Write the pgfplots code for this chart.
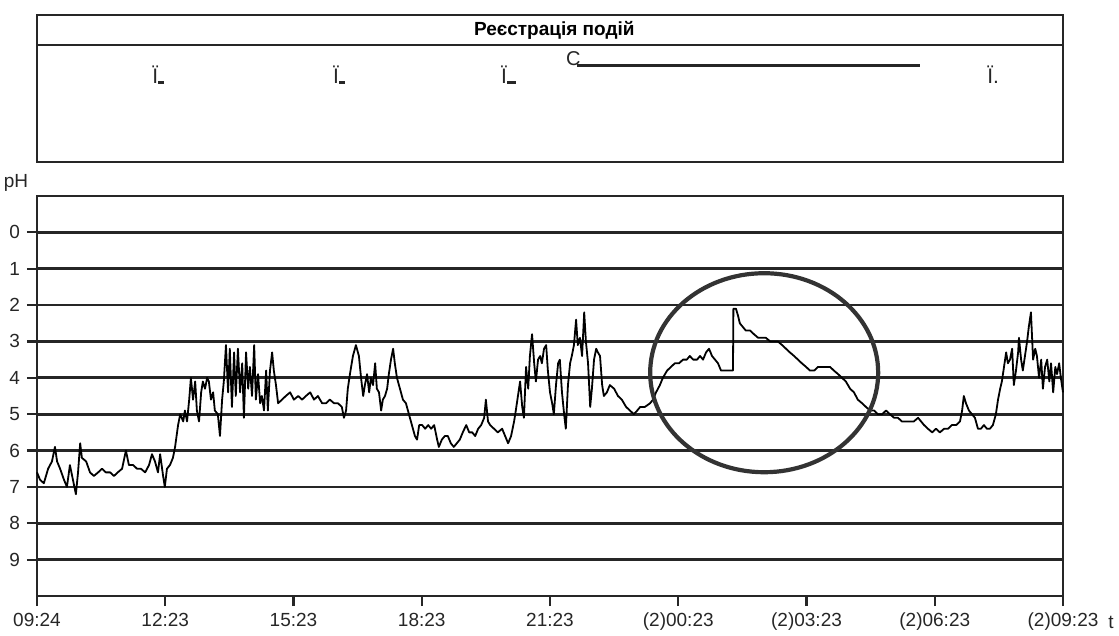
\documentclass[border=0pt]{standalone}
\usepackage{pgfplots}
\pgfplotsset{compat=1.18}
\usepackage{fontspec}
\setmainfont{Liberation Sans}
\pgfplotstableread{
h pH
0 6.6
0.07 6.8
0.16 6.9
0.26 6.5
0.35 6.3
0.42 5.9
0.47 6.3
0.54 6.5
0.63 6.8
0.70 7.0
0.77 6.4
0.84 6.8
0.91 7.2
0.96 6.6
1.01 5.8
1.05 6.2
1.15 6.3
1.24 6.6
1.33 6.7
1.43 6.6
1.52 6.5
1.61 6.6
1.71 6.6
1.80 6.7
1.89 6.6
1.99 6.5
2.08 6.0
2.15 6.4
2.25 6.4
2.34 6.5
2.43 6.5
2.53 6.6
2.62 6.4
2.69 6.1
2.76 6.3
2.83 6.6
2.88 6.1
2.95 6.7
2.99 7.0
3.04 6.5
3.11 6.4
3.18 6.2
3.23 5.9
3.30 5.3
3.35 5.0
3.42 5.2
3.46 4.9
3.51 5.2
3.56 4.6
3.60 4.0
3.65 4.6
3.70 4.1
3.74 4.9
3.79 5.2
3.84 4.4
3.88 4.1
3.93 4.3
3.98 4.0
4.02 4.1
4.07 4.6
4.12 4.4
4.16 4.9
4.23 5.0
4.28 5.6
4.33 4.6
4.37 4.1
4.42 3.1
4.47 4.4
4.51 3.2
4.56 4.8
4.61 3.3
4.65 4.5
4.70 3.2
4.75 4.4
4.80 3.6
4.84 5.1
4.89 3.3
4.94 4.3
4.98 3.7
5.03 4.5
5.08 3.1
5.12 4.6
5.17 3.9
5.22 4.7
5.26 4.5
5.31 4.9
5.36 3.8
5.40 4.9
5.45 3.8
5.50 3.3
5.54 3.8
5.59 4.2
5.64 4.7
5.73 4.6
5.82 4.5
5.92 4.4
6.01 4.6
6.11 4.5
6.20 4.6
6.29 4.5
6.39 4.4
6.48 4.6
6.57 4.5
6.67 4.7
6.76 4.7
6.85 4.6
6.95 4.7
7.04 4.7
7.13 4.8
7.18 5.1
7.23 4.9
7.27 4.3
7.32 3.9
7.39 3.4
7.46 3.1
7.53 3.4
7.58 4.0
7.63 4.5
7.67 4.2
7.72 3.9
7.77 4.4
7.81 4.0
7.86 4.2
7.91 3.6
7.95 4.3
8.00 4.4
8.05 4.9
8.09 4.6
8.14 4.5
8.19 4.3
8.23 3.9
8.28 3.5
8.33 3.2
8.37 3.6
8.42 4.0
8.49 4.3
8.56 4.6
8.63 4.7
8.70 5.0
8.77 5.3
8.84 5.6
8.89 5.7
8.94 5.3
9.01 5.3
9.08 5.4
9.15 5.3
9.22 5.4
9.29 5.3
9.36 5.7
9.40 5.9
9.47 5.7
9.54 5.6
9.61 5.6
9.68 5.8
9.75 5.9
9.82 5.8
9.89 5.7
9.96 5.5
10.04 5.3
10.11 5.5
10.18 5.5
10.25 5.6
10.32 5.4
10.39 5.3
10.46 5.1
10.50 4.6
10.55 5.2
10.60 5.3
10.69 5.4
10.78 5.5
10.88 5.4
10.95 5.6
11.02 5.8
11.09 5.6
11.16 5.2
11.20 4.9
11.25 4.5
11.30 4.1
11.35 4.8
11.39 5.1
11.44 3.7
11.49 4.3
11.53 3.4
11.58 2.8
11.63 3.6
11.67 4.1
11.72 3.5
11.77 3.4
11.81 3.6
11.86 3.2
11.91 3.1
11.95 3.8
12.00 4.4
12.05 4.7
12.09 5.0
12.14 4.2
12.19 3.6
12.23 3.5
12.28 4.4
12.33 5.0
12.37 5.4
12.42 4.2
12.47 3.6
12.51 3.4
12.56 3.1
12.61 2.4
12.65 3.1
12.70 2.9
12.75 3.4
12.80 2.2
12.84 3.0
12.89 3.6
12.94 4.8
12.98 4.3
13.03 3.5
13.08 3.2
13.12 3.3
13.17 3.4
13.22 4.2
13.26 4.5
13.33 4.4
13.40 4.2
13.50 4.3
13.59 4.5
13.68 4.6
13.78 4.8
13.87 4.9
13.96 5.0
14.04 4.9
14.11 4.8
14.22 4.8
14.34 4.7
14.41 4.6
14.48 4.4
14.57 4.2
14.64 4.0
14.74 3.8
14.83 3.7
14.92 3.6
15.02 3.6
15.11 3.5
15.20 3.5
15.27 3.4
15.35 3.5
15.44 3.5
15.51 3.4
15.58 3.5
15.65 3.3
15.72 3.2
15.79 3.4
15.86 3.5
15.93 3.6
16.00 3.8
16.09 3.8
16.19 3.8
16.28 3.8
16.29 2.1
16.35 2.1
16.40 2.3
16.44 2.5
16.51 2.6
16.58 2.7
16.68 2.7
16.77 2.8
16.87 2.9
16.96 2.9
17.05 2.9
17.15 3.0
17.24 3.0
17.33 3.0
17.43 3.1
17.52 3.2
17.61 3.3
17.71 3.4
17.80 3.5
17.89 3.6
17.99 3.7
18.08 3.8
18.18 3.8
18.27 3.7
18.36 3.7
18.46 3.7
18.55 3.7
18.64 3.8
18.74 3.9
18.83 4.0
18.92 4.1
19.02 4.3
19.11 4.4
19.20 4.6
19.30 4.7
19.39 4.8
19.49 4.9
19.58 4.9
19.67 5.0
19.77 5.0
19.86 4.9
19.95 5.0
20.05 5.1
20.14 5.1
20.23 5.2
20.33 5.2
20.42 5.2
20.51 5.2
20.61 5.1
20.68 5.2
20.75 5.3
20.84 5.4
20.94 5.5
21.03 5.4
21.12 5.5
21.22 5.4
21.31 5.4
21.40 5.3
21.50 5.3
21.59 5.2
21.64 4.9
21.68 4.5
21.73 4.7
21.80 4.9
21.87 5.0
21.94 5.1
22.01 5.4
22.08 5.4
22.15 5.3
22.22 5.4
22.29 5.4
22.36 5.3
22.43 5.0
22.48 4.6
22.53 4.3
22.57 4.1
22.62 3.7
22.67 3.3
22.71 3.6
22.76 3.5
22.81 3.2
22.85 4.2
22.90 3.8
22.95 3.3
22.97 2.9
23.02 3.5
23.06 3.8
23.11 3.4
23.16 3.0
23.20 2.6
23.25 2.2
23.30 3.5
23.35 3.2
23.39 3.4
23.44 4.0
23.49 3.5
23.53 4.3
23.58 3.7
23.63 3.5
23.68 4.1
23.72 3.6
23.77 4.4
23.82 3.7
23.86 3.9
23.91 3.6
23.95 4.0
24.00 4.4
}\phdata
\definecolor{frame}{gray}{0.15}
\begin{document}
\begin{tikzpicture}[x=1pt,y=1pt]
\useasboundingbox (0,0) rectangle (559.5,318);
% ---------- event panel ----------
\begin{axis}[at={(18.5pt,237pt)}, anchor=south west, scale only axis,
  width=513pt, height=73.5pt, xmin=0, xmax=24, ymin=0, ymax=147,
  axis line style={line width=1.3pt, frame}, ticks=none, clip=false]
\draw[line width=1.3pt, frame] (axis cs:0,117) -- (axis cs:24,117);
\node[font=\bfseries\fontsize{9.5}{11}\selectfont] at (axis cs:12.1,132) {Реєстрація подій};
\node[anchor=base west, inner sep=0pt, font=\fontsize{10.5}{12}\selectfont, text=frame] at (axis cs:2.69,78) {Ї\rule{3pt}{1.3pt}};
\node[anchor=base west, inner sep=0pt, font=\fontsize{10.5}{12}\selectfont, text=frame] at (axis cs:6.92,78) {Ї\rule{3pt}{1.3pt}};
\node[anchor=base west, inner sep=0pt, font=\fontsize{10.5}{12}\selectfont, text=frame] at (axis cs:10.85,78) {Ї\rule{4.5pt}{1.3pt}};
\node[anchor=base west, inner sep=0pt, font=\fontsize{10.5}{12}\selectfont, text=frame] at (axis cs:22.22,78) {Ї.};
\node[anchor=base west, inner sep=0pt, font=\fontsize{10}{12}\selectfont, text=frame] at (axis cs:12.37,96) {C};
\draw[line width=1.1pt, frame] (axis cs:12.63,96.5) -- (axis cs:20.65,96.5);
\end{axis}
% ---------- pH panel ----------
\begin{axis}[at={(18.5pt,20pt)}, anchor=south west, scale only axis,
  width=513pt, height=200pt, xmin=0, xmax=24, ymin=-1, ymax=10,
  y dir=reverse,
  xtick={0,3,...,24},
  xticklabels={09:24,12:23,15:23,18:23,21:23,(2)00:23,(2)03:23,(2)06:23,(2)09:23},
  ytick={0,...,9},
  ymajorgrids, grid style={line width=1.35pt, frame},
  axis line style={line width=1.35pt, frame},
  tick align=outside, xtick pos=bottom, ytick pos=left,
  major tick length=5pt, tick style={line width=1.1pt, frame},
  tick label style={font=\fontsize{9.5}{11}\selectfont, text=frame},
  /pgf/number format/assume math mode=true,
  clip=false]
\addplot[black, line width=0.9pt, line join=round, mark=none] table[x=h, y=pH] {\phdata};
\draw[line width=2.1pt, black!80] (axis cs:17.01,3.86) ellipse [x radius=57pt, y radius=49.75pt];
\end{axis}
\node[font=\fontsize{9.5}{11}\selectfont, text=frame] at (8pt,226.5pt) {pH};
\node[anchor=west, font=\fontsize{9.5}{11}\selectfont, text=frame, inner sep=0pt] at (554pt,7pt) {t};
\end{tikzpicture}
\end{document}
